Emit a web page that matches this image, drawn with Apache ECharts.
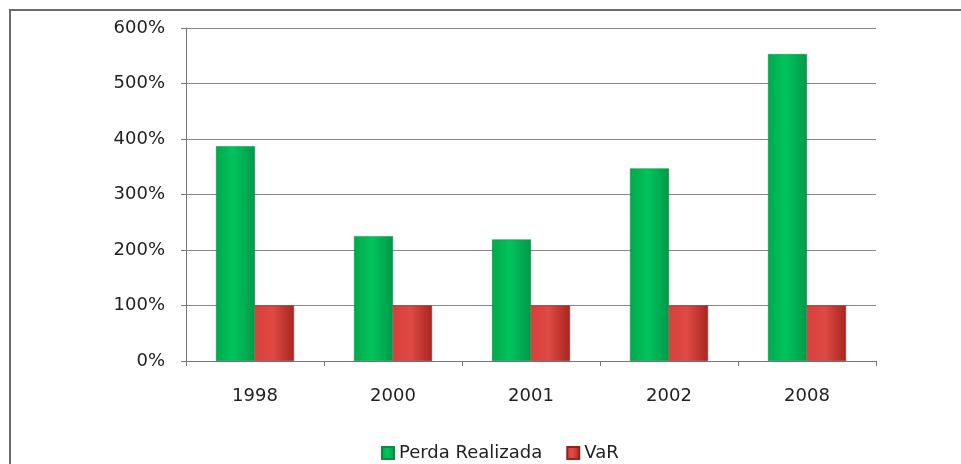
<!DOCTYPE html>
<html>
<head>
<meta charset="utf-8">
<script src="https://cdn.jsdelivr.net/npm/echarts@6/dist/echarts.min.js"></script>
<style>
  html, body { margin: 0; padding: 0; background: #fff; }
  #chart { width: 961px; height: 464px; }
</style>
</head>
<body>
<div id="chart"></div>
<script>
// dados do gráfico
const anos = ['1998', '2000', '2001', '2002', '2008'];
const perdaRealizada = [387, 225, 219, 347, 553];
const valueAtRisk = [100, 100, 100, 100, 100];
const yTicks = [0, 100, 200, 300, 400, 500, 600];

const chart = echarts.init(document.getElementById('chart'));

// gradiente horizontal para imitar o efeito 3D das barras
const gradiente = (borda, meio, escuro) => new echarts.graphic.LinearGradient(0, 0, 1, 0, [
    { offset: 0, color: borda },
    { offset: 0.45, color: meio },
    { offset: 1, color: escuro }
]);

chart.setOption({
    animation: false,
    textStyle: { fontFamily: 'DejaVu Sans', color: '#222' },
    graphic: [{
        type: 'rect',
        shape: { x: 10, y: 10, width: 1000, height: 500 },
        style: { fill: 'none', stroke: '#6b6b6b', lineWidth: 2 },
        silent: true
    }],
    grid: { left: 186, right: 85, top: 28, bottom: 103 },
    legend: {
        bottom: -3,
        left: 376,
        itemWidth: 12,
        itemHeight: 12,
        itemGap: 24,
        icon: 'rect',
        textStyle: { fontSize: 18, color: '#222', fontFamily: 'DejaVu Sans' },
        data: ['Perda Realizada', 'VaR']
    },
    xAxis: {
        type: 'category',
        data: anos,
        axisLine: { lineStyle: { color: '#777', width: 1 } },
        axisTick: { show: true, length: 5, lineStyle: { color: '#777' } },
        axisLabel: { fontSize: 18, color: '#222', margin: 26 }
    },
    yAxis: {
        type: 'value',
        min: yTicks[0],
        max: yTicks[yTicks.length - 1],
        interval: 100,
        axisLine: { show: true, lineStyle: { color: '#777' } },
        axisTick: { show: true, length: 5, lineStyle: { color: '#777' } },
        splitLine: { lineStyle: { color: '#888', width: 1 } },
        axisLabel: { fontSize: 18, color: '#222', margin: 21, formatter: '{value}%' }
    },
    series: [
        {
            name: 'Perda Realizada',
            type: 'bar',
            data: perdaRealizada,
            barWidth: 39,
            barGap: '0%',
            itemStyle: {
                color: gradiente('#00a94c', '#00c45c', '#00994a'),
                borderColor: '#0a8a42',
                borderWidth: 0.5
            }
        },
        {
            name: 'VaR',
            type: 'bar',
            data: valueAtRisk,
            barWidth: 39,
            itemStyle: {
                color: gradiente('#d8403a', '#e04a44', '#a8261f'),
                borderColor: '#8e2420',
                borderWidth: 0.5
            }
        }
    ],
    color: ['#00b050', '#c0392b']
});
</script>
</body>
</html>
